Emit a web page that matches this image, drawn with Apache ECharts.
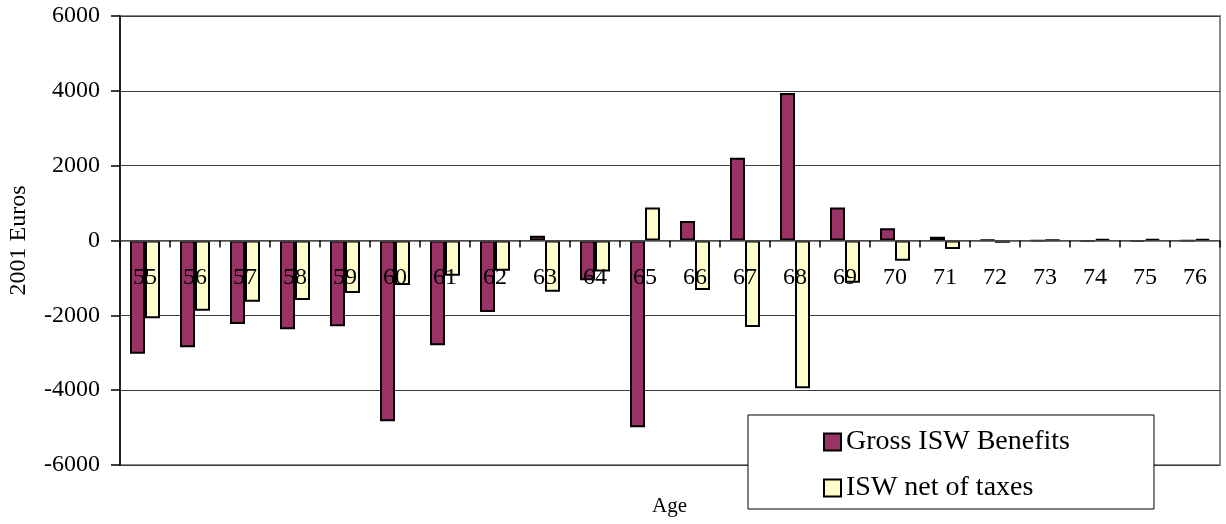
<!DOCTYPE html>
<html>
<head>
<meta charset="utf-8">
<script src="https://cdn.jsdelivr.net/npm/echarts@6/dist/echarts.min.js"></script>
<style>
html,body{margin:0;padding:0;background:#fff;}
#chart{width:1226px;height:524px;}
</style>
</head>
<body>
<div id="chart"></div>
<script>
const ages = ['55','56','57','58','59','60','61','62','63','64','65','66','67','68','69','70','71','72','73','74','75','76'];
const grossISW = [-3030, -2850, -2230, -2370, -2290, -4830, -2800, -1910, 130, -1060, -4990, 520, 2210, 3940, 880, 330, 100, 15, -20, -25, -25, -20];
const netISW = [-2080, -1880, -1640, -1590, -1400, -1190, -940, -810, -1370, -830, 880, -1320, -2310, -3950, -1130, -540, -230, -60, 15, 40, 40, 40];
const yTicks = {min: -6000, max: 6000, interval: 2000};
const seriesNames = ['Gross ISW Benefits', 'ISW net of taxes'];

const font = '"Liberation Serif", "Times New Roman", serif';
const gridTop = 16, gridBottom = 59, H = 524;
const plotH = H - gridTop - gridBottom;
const zeroOffset = -plotH * (0 - yTicks.min) / (yTicks.max - yTicks.min);

const chart = echarts.init(document.getElementById('chart'));
chart.setOption({
  animation: false,
  backgroundColor: '#ffffff',
  textStyle: {fontFamily: font, color: '#000'},
  grid: {left: 120, right: 6, top: gridTop, bottom: gridBottom, containLabel: false, outerBoundsMode: 'none',
         show: true, borderColor: '#8a8a8a', borderWidth: 2, backgroundColor: 'transparent'},
  legend: {
    orient: 'vertical', left: 748, top: 415,
    padding: [13, 84, 7, 75],
    backgroundColor: '#ffffff', borderColor: '#000', borderWidth: 1,
    itemWidth: 17, itemHeight: 17, itemGap: 18,
    icon: 'rect',
    textStyle: {fontFamily: font, fontSize: 28, color: '#000', lineHeight: 28},
    data: seriesNames,
    z: 10
  },
  xAxis: {
    type: 'category', data: ages, z: 10,
    position: 'bottom', offset: zeroOffset,
    axisLine: {onZero: false, lineStyle: {color: '#555', width: 1.5}},
    axisTick: {show: true, length: 7, lineStyle: {color: '#000', width: 1.5}},
    axisLabel: {fontFamily: font, fontSize: 24, color: '#000', margin: 25},
    splitLine: {show: false}
  },
  yAxis: {
    type: 'value', min: yTicks.min, max: yTicks.max, interval: yTicks.interval,
    name: '2001 Euros', nameLocation: 'middle', nameGap: 89,
    nameTextStyle: {fontFamily: font, fontSize: 24, color: '#000'},
    axisLine: {show: true, lineStyle: {color: '#000', width: 1.5}},
    axisTick: {show: true, length: 9, lineStyle: {color: '#000', width: 1.5}},
    axisLabel: {fontFamily: font, fontSize: 24, color: '#000', margin: 20, formatter: v => String(v)},
    splitLine: {show: true, lineStyle: {color: '#3a3a3a', width: 1}}
  },
  graphic: [{
    type: 'text', left: 652, top: 496,
    style: {text: 'Age', font: '21px ' + font, fill: '#000'}
  }],
  series: [
    {name: seriesNames[0], type: 'bar', data: grossISW, barWidth: 15, barGap: '0%',
     itemStyle: {color: '#993366', borderColor: '#000', borderWidth: 2}},
    {name: seriesNames[1], type: 'bar', data: netISW, barWidth: 15, barGap: '0%',
     itemStyle: {color: '#ffffcc', borderColor: '#000', borderWidth: 2}}
  ]
});
</script>
</body>
</html>
